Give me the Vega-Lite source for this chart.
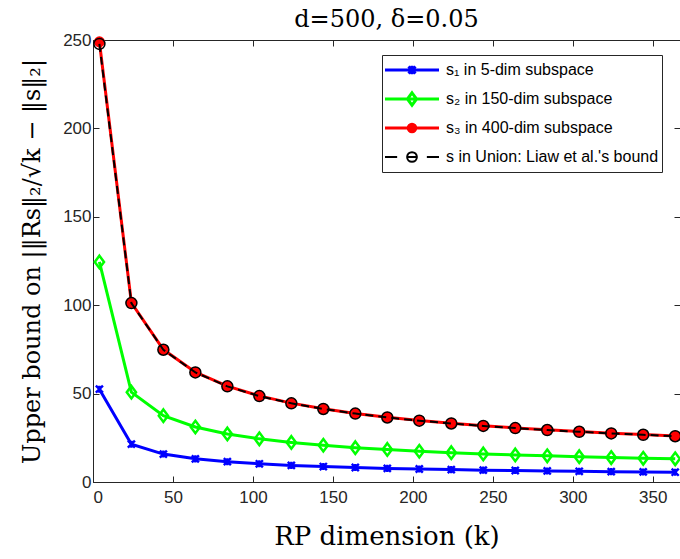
{
  "$schema": "https://vega.github.io/schema/vega-lite/v6.json",
  "width": 587,
  "height": 442,
  "autosize": {"type": "none"},
  "padding": {"left": 93, "top": 40, "right": 0, "bottom": 77},
  "background": "white",
  "title": {"text": "d=500, δ=0.05", "font": "DejaVu Serif", "fontSize": 24, "fontWeight": "normal", "color": "#000000", "anchor": "middle", "frame": "group", "baseline": "alphabetic", "offset": 14, "dy": 34},
  "config": {
    "view": {"stroke": "#262626", "strokeWidth": 1},
    "axis": {"domainColor": "#262626", "tickColor": "#262626", "labelColor": "#262626", "labelFont": "Liberation Sans", "labelFontSize": 17, "grid": false, "titleFont": "DejaVu Serif", "titleFontWeight": "normal", "titleColor": "#000000", "domainWidth": 1, "tickWidth": 1}
  },
  "data": {"values": [
    {"k": 4, "s": "s1", "v": 52.5}, {"k": 24, "s": "s1", "v": 21.4}, {"k": 44, "s": "s1", "v": 15.8}, {"k": 64, "s": "s1", "v": 13.1}, {"k": 84, "s": "s1", "v": 11.5}, {"k": 104, "s": "s1", "v": 10.3}, {"k": 124, "s": "s1", "v": 9.4}, {"k": 144, "s": "s1", "v": 8.75}, {"k": 164, "s": "s1", "v": 8.2}, {"k": 184, "s": "s1", "v": 7.7}, {"k": 204, "s": "s1", "v": 7.35}, {"k": 224, "s": "s1", "v": 7.0}, {"k": 244, "s": "s1", "v": 6.7}, {"k": 264, "s": "s1", "v": 6.5}, {"k": 284, "s": "s1", "v": 6.25}, {"k": 304, "s": "s1", "v": 6.05}, {"k": 324, "s": "s1", "v": 5.85}, {"k": 344, "s": "s1", "v": 5.7}, {"k": 364, "s": "s1", "v": 5.55},
    {"k": 4, "s": "s2", "v": 124.5}, {"k": 24, "s": "s2", "v": 50.8}, {"k": 44, "s": "s2", "v": 37.5}, {"k": 64, "s": "s2", "v": 31.1}, {"k": 84, "s": "s2", "v": 27.2}, {"k": 104, "s": "s2", "v": 24.4}, {"k": 124, "s": "s2", "v": 22.4}, {"k": 144, "s": "s2", "v": 20.8}, {"k": 164, "s": "s2", "v": 19.4}, {"k": 184, "s": "s2", "v": 18.4}, {"k": 204, "s": "s2", "v": 17.4}, {"k": 224, "s": "s2", "v": 16.6}, {"k": 244, "s": "s2", "v": 15.9}, {"k": 264, "s": "s2", "v": 15.3}, {"k": 284, "s": "s2", "v": 14.8}, {"k": 304, "s": "s2", "v": 14.3}, {"k": 324, "s": "s2", "v": 13.8}, {"k": 344, "s": "s2", "v": 13.4}, {"k": 364, "s": "s2", "v": 13.1},
    {"k": 4, "s": "s3", "v": 249.0}, {"k": 24, "s": "s3", "v": 101.4}, {"k": 44, "s": "s3", "v": 74.9}, {"k": 64, "s": "s3", "v": 62.1}, {"k": 84, "s": "s3", "v": 54.2}, {"k": 104, "s": "s3", "v": 48.7}, {"k": 124, "s": "s3", "v": 44.6}, {"k": 144, "s": "s3", "v": 41.4}, {"k": 164, "s": "s3", "v": 38.8}, {"k": 184, "s": "s3", "v": 36.6}, {"k": 204, "s": "s3", "v": 34.8}, {"k": 224, "s": "s3", "v": 33.2}, {"k": 244, "s": "s3", "v": 31.8}, {"k": 264, "s": "s3", "v": 30.6}, {"k": 284, "s": "s3", "v": 29.5}, {"k": 304, "s": "s3", "v": 28.5}, {"k": 324, "s": "s3", "v": 27.6}, {"k": 344, "s": "s3", "v": 26.8}, {"k": 364, "s": "s3", "v": 26.0},
    {"k": 4, "s": "u", "v": 247.8}, {"k": 24, "s": "u", "v": 101.2}, {"k": 44, "s": "u", "v": 74.8}, {"k": 64, "s": "u", "v": 62.0}, {"k": 84, "s": "u", "v": 54.1}, {"k": 104, "s": "u", "v": 48.6}, {"k": 124, "s": "u", "v": 44.5}, {"k": 144, "s": "u", "v": 41.3}, {"k": 164, "s": "u", "v": 38.7}, {"k": 184, "s": "u", "v": 36.5}, {"k": 204, "s": "u", "v": 34.7}, {"k": 224, "s": "u", "v": 33.1}, {"k": 244, "s": "u", "v": 31.7}, {"k": 264, "s": "u", "v": 30.5}, {"k": 284, "s": "u", "v": 29.4}, {"k": 304, "s": "u", "v": 28.4}, {"k": 324, "s": "u", "v": 27.5}, {"k": 344, "s": "u", "v": 26.7}, {"k": 364, "s": "u", "v": 25.9}
  ]},
  "encoding": {
    "x": {"field": "k", "type": "quantitative", "scale": {"domain": [0, 367], "nice": false, "zero": false}, "axis": null},
    "y": {"field": "v", "type": "quantitative", "scale": {"domain": [0, 250], "nice": false}, "axis": null}
  },
  "layer": [
    {
      "transform": [{"filter": "datum.s === 's1'"}],
      "mark": {"type": "line", "strokeWidth": 3},
      "encoding": {
        "x": {"field": "k", "type": "quantitative", "scale": {"domain": [0, 367], "nice": false, "zero": false},
              "axis": {"orient": "bottom", "values": [0, 50, 100, 150, 200, 250, 300, 350], "tickSize": -6, "labelPadding": 13, "title": "RP dimension (k)", "titleFontSize": 26, "titlePadding": 18}},
        "y": {"field": "v", "type": "quantitative", "scale": {"domain": [0, 250], "nice": false},
              "axis": {"orient": "left", "values": [0, 50, 100, 150, 200, 250], "tickSize": -6, "labelPadding": 8, "title": "Upper bound on |‖Rs‖₂/√k − ‖s‖₂|", "titleFontSize": 24, "titlePadding": 18}},
        "color": {"field": "s", "type": "nominal",
          "scale": {"domain": ["s1", "s2", "s3", "u"], "range": ["#0000ff", "#00ff00", "#ff0000", "#000000"]},
          "legend": {
            "orient": "none", "legendX": 289, "legendY": 15, "title": null,
            "padding": 3, "rowPadding": 5, "clipHeight": 24, "symbolSize": 2916, "symbolOffset": 19,
            "labelFont": "Liberation Sans", "labelFontSize": 16, "labelColor": "#000000", "labelOffset": 26, "labelLimit": 400,
            "strokeColor": "#262626", "fillColor": "#ffffff",
            "labelExpr": "datum.value === 's1' ? 's₁ in 5-dim subspace' : datum.value === 's2' ? 's₂ in 150-dim subspace' : datum.value === 's3' ? 's₃ in 400-dim subspace' : \"s in Union: Liaw et al.'s bound\"",
            "encode": {"symbols": {"update": {
              "shape": {"signal": "datum.value === 's1' ? 'M-1,0H1M-0.13,-0.13L0.13,0.13M-0.13,0.13L0.13,-0.13M0,-0.16V0.16' : datum.value === 's2' ? 'M-1,0H1M0,-0.23L0.17,0L0,0.23L-0.17,0Z' : datum.value === 's3' ? 'M-1,0H1M-0.14,0A0.14,0.14,0,1,1,0.14,0A0.14,0.14,0,1,1,-0.14,0Z' : 'M-1,0H-0.55M0.55,0H1M-0.18,0A0.18,0.18,0,1,1,0.18,0A0.18,0.18,0,1,1,-0.18,0ZM-0.18,0H0.18'"},
              "size": {"value": 2916},
              "fill": {"signal": "datum.value === 's3' ? '#ff0000' : 'transparent'"},
              "stroke": {"signal": "datum.value === 's1' ? '#0000ff' : datum.value === 's2' ? '#00ff00' : datum.value === 's3' ? '#ff0000' : '#000000'"},
              "strokeWidth": {"signal": "datum.value === 'u' ? 2 : 3"},
              "opacity": {"value": 1}
            }}}
          }}
      }
    },
    {
      "transform": [{"filter": "datum.s === 's1'"}],
      "mark": {"type": "point", "shape": "M-1,-1L1,1M-1,1L1,-1M0,-1V1", "size": 50, "filled": false, "stroke": "#0000ff", "strokeWidth": 2.4, "opacity": 1},
      "encoding": {
        "x": {"field": "k", "type": "quantitative", "axis": {"orient": "top", "labels": false, "domain": false, "values": [0, 50, 100, 150, 200, 250, 300, 350], "tickSize": -6, "title": null}},
        "y": {"field": "v", "type": "quantitative", "axis": {"orient": "right", "labels": false, "domain": false, "values": [0, 50, 100, 150, 200, 250], "tickSize": -6, "title": null}}
      }
    },
    {
      "transform": [{"filter": "datum.s === 's2'"}],
      "mark": {"type": "line", "strokeWidth": 3},
      "encoding": {"color": {"field": "s", "type": "nominal"}}
    },
    {
      "transform": [{"filter": "datum.s === 's2'"}],
      "mark": {"type": "point", "shape": "M0,-1L0.74,0L0,1L-0.74,0Z", "size": 156, "filled": false, "stroke": "#00ff00", "strokeWidth": 2.5, "opacity": 1}
    },
    {
      "transform": [{"filter": "datum.s === 's3'"}],
      "mark": {"type": "line", "strokeWidth": 3},
      "encoding": {"color": {"field": "s", "type": "nominal"}}
    },
    {
      "transform": [{"filter": "datum.s === 's3'"}],
      "mark": {"type": "point", "shape": "circle", "size": 121, "filled": true, "fill": "#ff0000", "strokeWidth": 0, "opacity": 1}
    },
    {
      "transform": [{"filter": "datum.s === 'u'"}],
      "mark": {"type": "line", "strokeWidth": 2, "strokeDash": [8, 5]},
      "encoding": {"color": {"field": "s", "type": "nominal"}}
    },
    {
      "transform": [{"filter": "datum.s === 'u'"}],
      "mark": {"type": "point", "shape": "circle", "size": 121, "filled": false, "stroke": "#000000", "strokeWidth": 1.5, "opacity": 1}
    }
  ]
}
